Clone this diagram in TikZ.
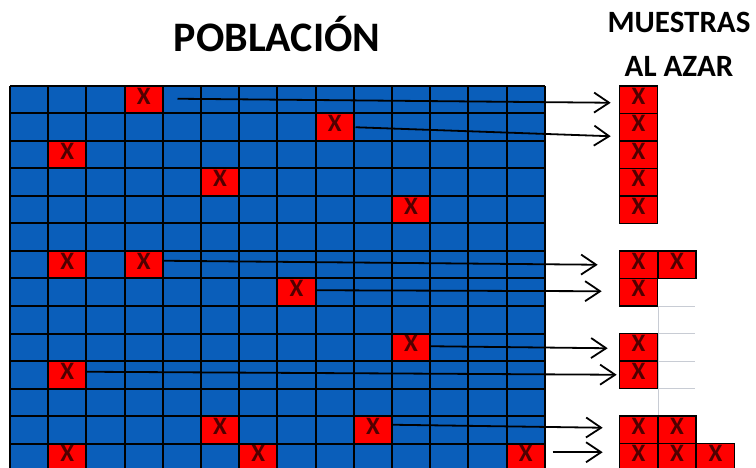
\documentclass[tikz,border=0pt]{standalone}
\usepackage{fontspec}
\setmainfont{Carlito}
\usetikzlibrary{arrows.meta}

\definecolor{cellblue}{RGB}{10,94,186}
\definecolor{xdark}{RGB}{80,0,0}
\definecolor{faintgray}{RGB}{200,204,212}

\tikzset{
  pick/.style={fill=red, draw=black, line width=1.4pt, inner sep=0pt,
    minimum width=38.2pt, minimum height=27.5pt, text=xdark,
    font=\fontsize{25}{25}\selectfont\bfseries, text height=17pt, text depth=8pt},
  gridline/.style={draw=black, line width=2pt},
  faint/.style={draw=faintgray, line width=0.8pt},
  toSample/.style={draw=black, line width=1.8pt,
    -{Straight Barb[length=15pt,width=20pt,line width=1.8pt]}},
  heading/.style={font=\fontsize{42}{48}\selectfont\bfseries, anchor=base},
  subheading/.style={font=\fontsize{31}{36}\selectfont\bfseries, anchor=base}
}

\begin{document}
\begin{tikzpicture}[x=1pt,y=-1pt]
\useasboundingbox (0,0) rectangle (756,468);
\clip (0,0) rectangle (756,468);

% titles
\node[heading] (pob) at (277,52) {POBLACIÓN};
\node[subheading] (mue) at (679,33) {MUESTRAS};
\node[subheading] (azar) at (679,77) {AL AZAR};

% population
\fill[cellblue] (10,86) rectangle (545,471);
\foreach \c/\r in {3/0,8/1,1/2,5/3,10/4,1/6,3/6,7/7,10/9,1/10,5/12,9/12,1/13,6/13,13/13}
  \node[pick] (p\c-\r) at ({29.1+38.2*\c},{99.75+27.5*\r}) {X};
\foreach \i in {0,...,14} {
  \draw[gridline] ({10+38.2*\i},86) -- ({10+38.2*\i},471);
  \draw[gridline] (10,{86+27.5*\i}) -- (545,{86+27.5*\i});
}

% samples
\draw[faint] (658,306) -- (658,416);
\foreach \y in {306,333.5,361,388.5}
  \draw[faint] (658,\y) -- (695,\y);
\foreach \c/\r in {0/0,0/1,0/2,0/3,0/4,0/6,1/6,0/7,0/9,0/10,0/12,1/12,0/13,1/13,2/13}
  \node[pick] (s\c-\r) at ({638.5+38.5*\c},{99.75+27.5*\r}) {X};

% arrows
\draw[toSample] ([xshift=14pt,yshift=1pt]p3-0.east) -- ([xshift=-8pt,yshift=-3pt]s0-0.west);
\draw[toSample] ([xshift=1pt]p8-1.east) -- ([xshift=-8pt,yshift=-9pt]s0-1.west);
\draw[toSample] ([yshift=4pt]p3-6.east) -- ([xshift=-21pt]s0-6.west);
\draw[toSample] ([yshift=2pt]p7-7.east) -- ([xshift=-17pt,yshift=1pt]s0-7.west);
\draw[toSample] ([yshift=1pt]p10-9.east) -- ([xshift=-11pt,yshift=-1pt]s0-9.west);
\draw[toSample] ([yshift=3pt]p1-10.east) -- ([xshift=-2pt]s0-10.west);
\draw[toSample] ([yshift=5pt]p9-12.east) -- ([xshift=-16pt,yshift=2pt]s0-12.west);
\draw[toSample] ([xshift=7pt,yshift=5pt]p13-13.east) -- ([xshift=-16pt,yshift=5pt]s0-13.west);

\end{tikzpicture}
\end{document}
